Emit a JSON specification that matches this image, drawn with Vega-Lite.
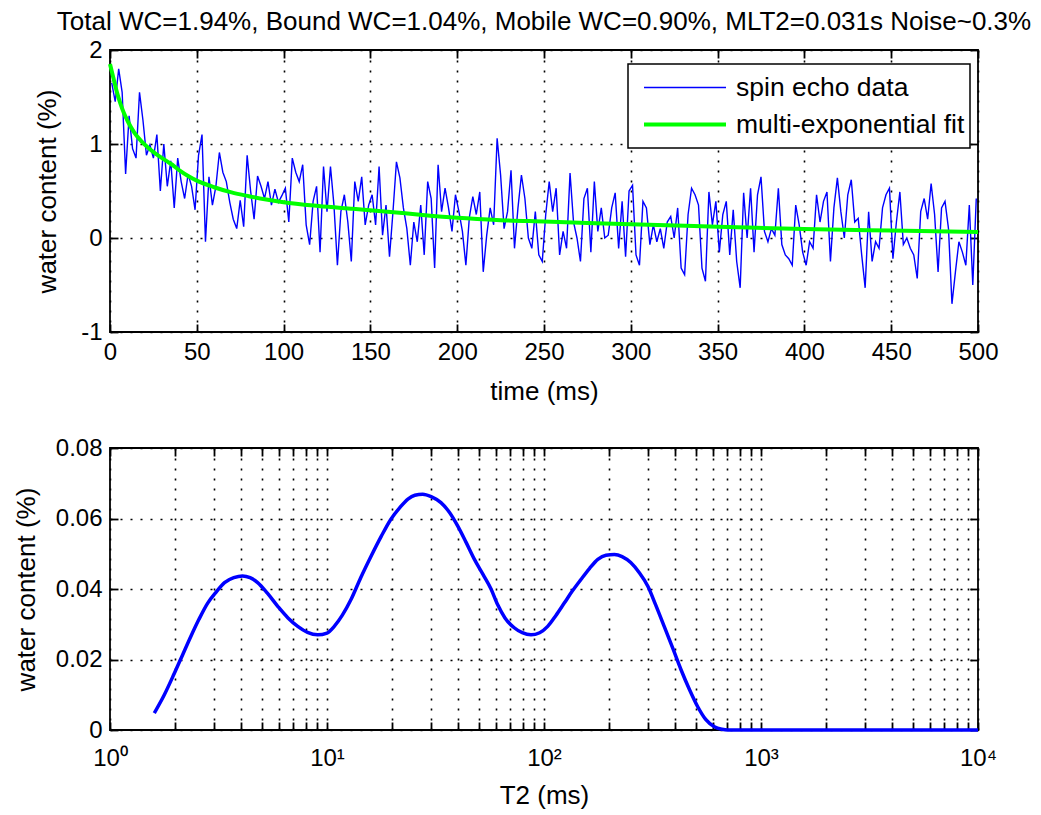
{
  "$schema": "https://vega.github.io/schema/vega-lite/v6.json",
  "background": "white",
  "padding": {"left": 12, "top": 8, "right": 5, "bottom": 0},
  "config": {
    "font": "Liberation Sans",
    "view": {"stroke": "#000", "strokeWidth": 1.8},
    "axis": {
      "labelFontSize": 24, "titleFontSize": 26, "titleFontWeight": "normal",
      "labelColor": "#000", "titleColor": "#000", "tickColor": "#000", "tickWidth": 1.8,
      "domain": false, "gridColor": "#000", "gridDash": [2, 8], "gridWidth": 1.6, "gridOpacity": 1,
      "tickSize": -8, "labelPadding": 16, "labelFlush": false, "labelOverlap": false
    },
    "legend": {"strokeColor": "#000", "strokeWidth": 1.5, "fillColor": "#fff"}
  },
  "datasets": {
    "echo": [
      {"t":1,"v":1.65},{"t":3,"v":1.45},{"t":5,"v":1.8},{"t":7,"v":1.55},{"t":9,"v":0.68},{"t":11,"v":1.3},{"t":13,"v":0.95},{"t":15,"v":0.85},{"t":17,"v":1.55},{"t":19,"v":1.25},
      {"t":21,"v":0.88},{"t":23,"v":0.99},{"t":25,"v":0.85},{"t":27,"v":1.1},{"t":29,"v":0.5},{"t":31,"v":1.0},{"t":33,"v":0.55},{"t":35,"v":0.82},{"t":37,"v":0.32},{"t":39,"v":0.85},
      {"t":41,"v":0.6},{"t":43,"v":0.42},{"t":45,"v":0.68},{"t":47,"v":0.55},{"t":49,"v":0.3},{"t":51,"v":0.88},{"t":53,"v":1.1},{"t":55,"v":-0.04},{"t":57,"v":0.65},{"t":59,"v":0.35},
      {"t":61,"v":0.55},{"t":63,"v":0.91},{"t":65,"v":0.7},{"t":67,"v":0.6},{"t":69,"v":0.38},{"t":71,"v":0.2},{"t":73,"v":0.1},{"t":75,"v":0.4},{"t":77,"v":0.12},{"t":79,"v":0.88},
      {"t":81,"v":0.5},{"t":83,"v":0.2},{"t":85,"v":0.66},{"t":87,"v":0.55},{"t":89,"v":0.42},{"t":91,"v":0.6},{"t":93,"v":0.35},{"t":95,"v":0.52},{"t":97,"v":0.38},{"t":99,"v":0.45},
      {"t":101,"v":0.53},{"t":103,"v":0.17},{"t":105,"v":0.85},{"t":107,"v":0.7},{"t":109,"v":0.6},{"t":111,"v":0.78},{"t":113,"v":0.14},{"t":115,"v":-0.07},{"t":117,"v":0.39},{"t":119,"v":0.55},
      {"t":121,"v":-0.15},{"t":123,"v":0.76},{"t":125,"v":0.28},{"t":127,"v":0.76},{"t":129,"v":0.35},{"t":131,"v":-0.29},{"t":133,"v":0.28},{"t":135,"v":0.46},{"t":137,"v":0.17},{"t":139,"v":-0.25},
      {"t":141,"v":0.6},{"t":143,"v":0.39},{"t":145,"v":0.65},{"t":147,"v":0.14},{"t":149,"v":0.35},{"t":151,"v":0.46},{"t":153,"v":0.14},{"t":155,"v":0.76},{"t":157,"v":0.03},{"t":159,"v":0.35},
      {"t":161,"v":-0.2},{"t":163,"v":0.28},{"t":165,"v":0.81},{"t":167,"v":0.64},{"t":169,"v":0.32},{"t":171,"v":0.1},{"t":173,"v":-0.29},{"t":175,"v":0.17},{"t":177,"v":-0.04},{"t":179,"v":0.35},
      {"t":181,"v":-0.18},{"t":183,"v":0.6},{"t":185,"v":0.42},{"t":187,"v":-0.32},{"t":189,"v":0.78},{"t":191,"v":0.28},{"t":193,"v":0.53},{"t":195,"v":0.32},{"t":197,"v":0.07},{"t":199,"v":0.46},
      {"t":201,"v":0.28},{"t":203,"v":0.07},{"t":205,"v":-0.29},{"t":207,"v":0.22},{"t":209,"v":0.44},{"t":211,"v":0.25},{"t":213,"v":0.49},{"t":215,"v":-0.36},{"t":217,"v":0.03},{"t":219,"v":0.32},
      {"t":221,"v":0.14},{"t":223,"v":1.06},{"t":225,"v":0.67},{"t":227,"v":0.1},{"t":229,"v":0.28},{"t":231,"v":0.72},{"t":233,"v":-0.11},{"t":235,"v":0.32},{"t":237,"v":0.67},{"t":239,"v":0.42},
      {"t":241,"v":0.0},{"t":243,"v":-0.11},{"t":245,"v":0.28},{"t":247,"v":-0.18},{"t":249,"v":-0.25},{"t":251,"v":0.25},{"t":253,"v":0.6},{"t":255,"v":0.28},{"t":257,"v":0.53},{"t":259,"v":-0.18},
      {"t":261,"v":0.07},{"t":263,"v":-0.11},{"t":265,"v":0.69},{"t":267,"v":0.17},{"t":269,"v":0.0},{"t":271,"v":-0.25},{"t":273,"v":0.42},{"t":275,"v":0.53},{"t":277,"v":-0.15},{"t":279,"v":0.6},
      {"t":281,"v":0.07},{"t":283,"v":0.32},{"t":285,"v":0.0},{"t":287,"v":0.03},{"t":289,"v":0.32},{"t":291,"v":0.48},{"t":293,"v":-0.11},{"t":295,"v":0.39},{"t":297,"v":-0.2},{"t":299,"v":0.5},
      {"t":301,"v":0.56},{"t":303,"v":-0.18},{"t":305,"v":-0.29},{"t":307,"v":0.39},{"t":309,"v":0.32},{"t":311,"v":-0.07},{"t":313,"v":0.14},{"t":315,"v":-0.04},{"t":317,"v":0.1},{"t":319,"v":-0.11},
      {"t":321,"v":0.17},{"t":323,"v":0.23},{"t":325,"v":0.0},{"t":327,"v":0.32},{"t":329,"v":-0.32},{"t":331,"v":-0.39},{"t":333,"v":0.25},{"t":335,"v":0.53},{"t":337,"v":0.46},{"t":339,"v":0.35},
      {"t":341,"v":-0.32},{"t":343,"v":-0.46},{"t":345,"v":0.49},{"t":347,"v":0.14},{"t":349,"v":0.39},{"t":351,"v":-0.15},{"t":353,"v":0.25},{"t":355,"v":0.39},{"t":357,"v":-0.18},{"t":359,"v":0.3},
      {"t":361,"v":-0.25},{"t":363,"v":-0.53},{"t":365,"v":0.48},{"t":367,"v":0.0},{"t":369,"v":0.53},{"t":371,"v":-0.15},{"t":373,"v":0.46},{"t":375,"v":0.65},{"t":377,"v":0.07},{"t":379,"v":-0.04},
      {"t":381,"v":0.1},{"t":383,"v":0.03},{"t":385,"v":0.53},{"t":387,"v":-0.07},{"t":389,"v":-0.18},{"t":391,"v":-0.22},{"t":393,"v":-0.29},{"t":395,"v":0.35},{"t":397,"v":0.14},{"t":399,"v":-0.15},
      {"t":401,"v":-0.29},{"t":403,"v":-0.04},{"t":405,"v":-0.11},{"t":407,"v":0.46},{"t":409,"v":0.17},{"t":411,"v":0.39},{"t":413,"v":0.49},{"t":415,"v":-0.25},{"t":417,"v":0.32},{"t":419,"v":0.64},
      {"t":421,"v":0.28},{"t":423,"v":0.0},{"t":425,"v":0.46},{"t":427,"v":0.62},{"t":429,"v":0.17},{"t":431,"v":0.21},{"t":433,"v":-0.18},{"t":435,"v":-0.53},{"t":437,"v":0.28},{"t":439,"v":-0.25},
      {"t":441,"v":-0.04},{"t":443,"v":-0.11},{"t":445,"v":0.32},{"t":447,"v":0.46},{"t":449,"v":0.53},{"t":451,"v":-0.22},{"t":453,"v":0.17},{"t":455,"v":0.49},{"t":457,"v":-0.07},{"t":459,"v":0.0},
      {"t":461,"v":-0.11},{"t":463,"v":-0.18},{"t":465,"v":-0.43},{"t":467,"v":0.28},{"t":469,"v":0.42},{"t":471,"v":0.2},{"t":473,"v":0.58},{"t":475,"v":0.25},{"t":477,"v":-0.36},{"t":479,"v":0.32},
      {"t":481,"v":0.39},{"t":483,"v":0.1},{"t":485,"v":-0.7},{"t":487,"v":-0.36},{"t":489,"v":-0.04},{"t":491,"v":-0.15},{"t":493,"v":-0.29},{"t":495,"v":0.35},{"t":497,"v":-0.5},{"t":499,"v":0.42}
    ],
    "fit": [
      {"t":0,"v":1.85},{"t":2,"v":1.7},{"t":4,"v":1.55},{"t":6,"v":1.43},{"t":8,"v":1.33},{"t":10,"v":1.25},{"t":14,"v":1.12},{"t":18,"v":1.03},{"t":22,"v":0.96},{"t":26,"v":0.9},
      {"t":30,"v":0.85},{"t":35,"v":0.79},{"t":40,"v":0.72},{"t":45,"v":0.66},{"t":50,"v":0.61},{"t":60,"v":0.54},{"t":70,"v":0.485},{"t":80,"v":0.445},{"t":90,"v":0.41},{"t":100,"v":0.38},
      {"t":120,"v":0.34},{"t":140,"v":0.31},{"t":160,"v":0.28},{"t":180,"v":0.245},{"t":200,"v":0.215},{"t":225,"v":0.19},{"t":250,"v":0.175},{"t":275,"v":0.16},{"t":300,"v":0.145},{"t":350,"v":0.12},
      {"t":400,"v":0.095},{"t":450,"v":0.08},{"t":500,"v":0.065}
    ],
    "t2": [
      {"T2":1.6,"wc":0.0048},{"T2":1.78,"wc":0.010},{"T2":1.98,"wc":0.0161},{"T2":2.16,"wc":0.0213},{"T2":2.36,"wc":0.0266},{"T2":2.57,"wc":0.0314},{"T2":2.82,"wc":0.036},{"T2":3.09,"wc":0.0392},{"T2":3.37,"wc":0.0418},{"T2":3.72,"wc":0.0432},
      {"T2":4.08,"wc":0.0437},{"T2":4.42,"wc":0.0432},{"T2":4.79,"wc":0.0418},{"T2":5.31,"wc":0.0388},{"T2":5.93,"wc":0.0351},{"T2":6.61,"wc":0.0318},{"T2":7.33,"wc":0.0294},{"T2":8.13,"wc":0.0277},{"T2":9.06,"wc":0.027},{"T2":10,"wc":0.0275},
      {"T2":10.8,"wc":0.0294},{"T2":11.75,"wc":0.0325},{"T2":12.9,"wc":0.037},{"T2":14.3,"wc":0.0432},{"T2":15.96,"wc":0.0493},{"T2":17.8,"wc":0.055},{"T2":19.7,"wc":0.0598},{"T2":21.6,"wc":0.063},{"T2":23.6,"wc":0.0655},{"T2":25.4,"wc":0.0666},
      {"T2":27.6,"wc":0.0669},{"T2":30.2,"wc":0.0662},{"T2":33.5,"wc":0.0645},{"T2":36.7,"wc":0.0617},{"T2":40.0,"wc":0.0579},{"T2":43.7,"wc":0.0533},{"T2":47.8,"wc":0.0484},{"T2":52.5,"wc":0.044},{"T2":57.0,"wc":0.04},{"T2":61.2,"wc":0.0355},
      {"T2":66.1,"wc":0.0318},{"T2":72.9,"wc":0.029},{"T2":79.4,"wc":0.0276},{"T2":87.1,"wc":0.027},{"T2":95.5,"wc":0.0276},{"T2":104,"wc":0.0294},{"T2":113.5,"wc":0.0325},{"T2":124,"wc":0.036},{"T2":135,"wc":0.0394},{"T2":148,"wc":0.0427},
      {"T2":162,"wc":0.0458},{"T2":177,"wc":0.0484},{"T2":193,"wc":0.0496},{"T2":211,"wc":0.0498},{"T2":229,"wc":0.0492},{"T2":251,"wc":0.0475},{"T2":275,"wc":0.0446},{"T2":301,"wc":0.0408},{"T2":327,"wc":0.0355},{"T2":358,"wc":0.0294},
      {"T2":392,"wc":0.0232},{"T2":428,"wc":0.0171},{"T2":468,"wc":0.0115},{"T2":511,"wc":0.0066},{"T2":556,"wc":0.003},{"T2":610,"wc":0.0009},{"T2":661,"wc":0.0002},{"T2":703,"wc":0},{"T2":1000,"wc":0},{"T2":3162,"wc":0},{"T2":10000,"wc":0}
    ]
  },
  "spacing": 30,
  "resolve": {"scale": {"color": "independent", "strokeWidth": "independent"}},
  "vconcat": [
    {
      "width": 868,
      "height": 282,
      "title": {"text": "Total WC=1.94%, Bound WC=1.04%, Mobile WC=0.90%, MLT2=0.031s Noise~0.3%", "fontSize": 26, "fontWeight": "normal", "color": "#000", "frame": "group", "anchor": "middle", "offset": 3},
      "resolve": {"axis": {"x": "independent", "y": "independent"}},
      "layer": [
        {
          "data": {"name": "echo"},
          "mark": {"type": "line", "interpolate": "linear"},
          "encoding": {
            "x": {"field": "t", "type": "quantitative", "scale": {"domain": [0, 500], "nice": false, "zero": false},
                  "axis": {"orient": "bottom", "values": [0, 50, 100, 150, 200, 250, 300, 350, 400, 450, 500], "title": "time (ms)", "grid": true, "titlePadding": 14}},
            "y": {"field": "v", "type": "quantitative", "scale": {"domain": [-1, 2], "nice": false, "zero": false},
                  "axis": {"orient": "left", "values": [-1, 0, 1, 2], "title": "water content (%)", "grid": true, "labelExpr": "'' + datum.value", "titlePadding": 20}},
            "color": {"datum": "spin echo data", "type": "nominal",
                      "scale": {"domain": ["spin echo data", "multi-exponential fit"], "range": ["#0000ff", "#00ff00"]},
                      "legend": {"title": null, "orient": "none", "legendX": 518, "legendY": 14, "padding": 5, "symbolType": "stroke", "symbolSize": 6724, "clipHeight": 37, "rowPadding": 0, "symbolOffset": 9, "labelOffset": 8, "labelFontSize": 26.5, "labelColor": "#000", "labelLimit": 0}},
            "strokeWidth": {"datum": "spin echo data", "type": "nominal",
                      "scale": {"domain": ["spin echo data", "multi-exponential fit"], "range": [1.4, 4]},
                      "legend": {"title": null, "orient": "none", "legendX": 518, "legendY": 14, "padding": 5, "symbolType": "stroke", "symbolSize": 6724, "clipHeight": 37, "rowPadding": 0, "symbolOffset": 9, "labelOffset": 8, "labelFontSize": 26.5, "labelColor": "#000", "labelLimit": 0}}
          }
        },
        {
          "data": {"name": "fit"},
          "mark": {"type": "line", "interpolate": "monotone"},
          "encoding": {
            "x": {"field": "t", "type": "quantitative", "scale": {"domain": [0, 500], "nice": false, "zero": false},
                  "axis": {"orient": "top", "values": [0, 50, 100, 150, 200, 250, 300, 350, 400, 450, 500], "title": null, "labels": false, "grid": false}},
            "y": {"field": "v", "type": "quantitative", "scale": {"domain": [-1, 2], "nice": false, "zero": false},
                  "axis": {"orient": "right", "values": [-1, 0, 1, 2], "title": null, "labels": false, "grid": false}},
            "color": {"datum": "multi-exponential fit", "type": "nominal"},
            "strokeWidth": {"datum": "multi-exponential fit", "type": "nominal"}
          }
        }
      ]
    },
    {
      "width": 868,
      "height": 282,
      "data": {"name": "t2"},
      "resolve": {"axis": {"x": "independent", "y": "independent"}},
      "layer": [
        {
          "mark": {"type": "line", "color": "#0000ff", "strokeWidth": 3.5, "interpolate": "monotone"},
          "encoding": {
            "x": {"field": "T2", "type": "quantitative", "scale": {"type": "log", "domain": [1, 10000], "nice": false},
                  "axis": {"orient": "bottom", "title": "T2 (ms)", "grid": true, "titlePadding": 12, "labelPadding": 24,
                           "values": [1,2,3,4,5,6,7,8,9,10,20,30,40,50,60,70,80,90,100,200,300,400,500,600,700,800,900,1000,2000,3000,4000,5000,6000,7000,8000,9000,10000],
                           "labelExpr": "abs(log(datum.value)/LN10 - round(log(datum.value)/LN10)) < 0.001 ? '10' + ['⁰','¹','²','³','⁴'][round(log(datum.value)/LN10)] : ''"}},
            "y": {"field": "wc", "type": "quantitative", "scale": {"domain": [0, 0.08], "nice": false, "zero": false},
                  "axis": {"orient": "left", "values": [0, 0.02, 0.04, 0.06, 0.08], "title": "water content (%)", "grid": true, "titlePadding": 16,
                           "labelExpr": "datum.value == 0 ? '0' : format(datum.value, '.2f')"}}
          }
        },
        {
          "mark": {"type": "line", "strokeOpacity": 0},
          "encoding": {
            "x": {"field": "T2", "type": "quantitative", "scale": {"type": "log", "domain": [1, 10000], "nice": false},
                  "axis": {"orient": "top", "title": null, "labels": false, "grid": false,
                           "values": [1,2,3,4,5,6,7,8,9,10,20,30,40,50,60,70,80,90,100,200,300,400,500,600,700,800,900,1000,2000,3000,4000,5000,6000,7000,8000,9000,10000]}},
            "y": {"field": "wc", "type": "quantitative", "scale": {"domain": [0, 0.08], "nice": false, "zero": false},
                  "axis": {"orient": "right", "values": [0, 0.02, 0.04, 0.06, 0.08], "title": null, "labels": false, "grid": false}}
          }
        }
      ]
    }
  ]
}
